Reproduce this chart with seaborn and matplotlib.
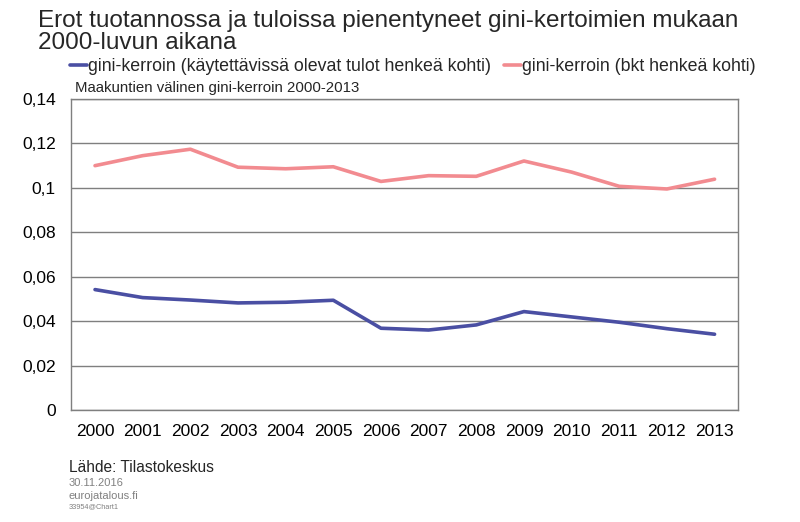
import matplotlib
matplotlib.use("Agg")
import matplotlib.pyplot as plt
import pandas as pd
import seaborn as sns

years = [str(y) for y in range(2000, 2014)]
gini_income = [0.0542, 0.0506, 0.0495, 0.0482, 0.0485, 0.0494, 0.0368,
               0.0360, 0.0383, 0.0443, 0.0419, 0.0395, 0.0366, 0.0341]
gini_gdp = [0.1100, 0.1145, 0.1174, 0.1093, 0.1086, 0.1095, 0.1029,
            0.1055, 0.1052, 0.1121, 0.1071, 0.1007, 0.0995, 0.1039]
yticks = [0, 0.02, 0.04, 0.06, 0.08, 0.1, 0.12, 0.14]
ytick_labels = ["0", "0,02", "0,04", "0,06", "0,08", "0,1", "0,12", "0,14"]

label_income = "gini-kerroin (käytettävissä olevat tulot henkeä kohti)"
label_gdp = "gini-kerroin (bkt henkeä kohti)"

df = pd.DataFrame({"vuosi": years, label_income: gini_income, label_gdp: gini_gdp})
long = df.melt(id_vars="vuosi", var_name="sarja", value_name="arvo")

sns.set_theme(style="white")
plt.rcParams["font.family"] = ["Liberation Sans", "DejaVu Sans"]

fig = plt.figure(figsize=(8, 5.22), dpi=100)
ax = fig.add_axes([0.089, 0.2146, 0.834, 0.5957])

palette = {label_income: "#4a4fa3", label_gdp: "#f28b90"}
sns.lineplot(data=long, x="vuosi", y="arvo", hue="sarja", palette=palette,
             linewidth=2.6, ax=ax, sort=False)

ax.set_xlim(-0.5, len(years) - 0.5)
ax.set_ylim(0, 0.14)
ax.set_yticks(yticks)
ax.set_yticklabels(ytick_labels)
ax.set_xlabel("")
ax.set_ylabel("")
ax.tick_params(axis="both", labelsize=12.5, length=0, colors="#000000")
ax.tick_params(axis="y", pad=11)
ax.tick_params(axis="x", pad=10)
ax.yaxis.grid(True, color="#7f7f7f", linewidth=1.0)
ax.set_axisbelow(True)
for s in ax.spines.values():
    s.set_color("#7f7f7f")
    s.set_linewidth(1.0)

handles, labels = ax.get_legend_handles_labels()
ax.legend_.remove()
fig.legend(handles, labels, ncol=2, loc="center left", bbox_to_anchor=(0.088, 0.872),
           frameon=False, fontsize=12.8, handlelength=0.93, handletextpad=0.05,
           columnspacing=0.75, borderaxespad=0, borderpad=0)

fig.text(0.0475, 0.98, "Erot tuotannossa ja tuloissa pienentyneet gini-kertoimien mukaan\n2000-luvun aikana",
         fontsize=17.5, va="top", ha="left", linespacing=0.98)
fig.text(0.094, 0.832, "Maakuntien välinen gini-kerroin 2000-2013", fontsize=10.8, va="center")

fig.text(0.086, 0.105, "Lähde: Tilastokeskus", fontsize=11.2, va="center")
fig.text(0.086, 0.075, "30.11.2016", fontsize=8, color="#808080", va="center")
fig.text(0.086, 0.050, "eurojatalous.fi", fontsize=8, color="#808080", va="center")
fig.text(0.086, 0.029, "33954@Chart1", fontsize=5.3, color="#808080", va="center")

fig.savefig("out.png", dpi=100)
